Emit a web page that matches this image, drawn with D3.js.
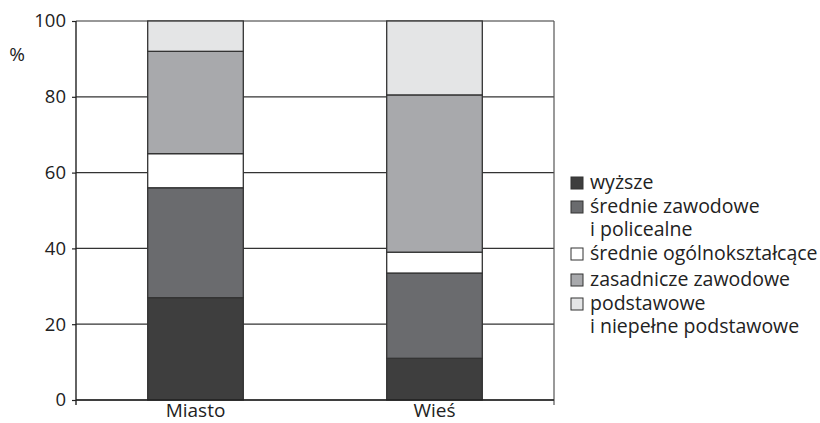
<!DOCTYPE html>
<html><head><meta charset="utf-8">
<script src="https://cdn.jsdelivr.net/npm/d3@7"></script>
<style>body{margin:0;background:#fff}svg{display:block}text{font-family:"Open Sans","Noto Sans",sans-serif;fill:#222}</style>
</head><body><svg id="c" width="820" height="423"></svg>
<script>
const categories = ["Miasto", "Wieś"];
const seriesNames = ["wyższe", "średnie zawodowe\ni policealne", "średnie ogólnokształcące", "zasadnicze zawodowe", "podstawowe\ni niepełne podstawowe"];
const wyzsze = [27, 11];
const srednieZawodowe = [29, 22.5];
const srednieOgolne = [9, 5.5];
const zasadnicze = [27, 41.5];
const podstawowe = [8, 19.5];
const yTicks = [0, 20, 40, 60, 80, 100];
const colors = ["#3e3e3e", "#6a6b6e", "#ffffff", "#a8a9ac", "#e4e5e6"];

const series = [wyzsze, srednieZawodowe, srednieOgolne, zasadnicze, podstawowe];
const svg = d3.select("#c");
const m = {l:76, r:554, t:21, b:400};
const x = d3.scaleBand().domain(categories).range([m.l, m.r]).paddingInner(0.6).paddingOuter(0.3);
const y = d3.scaleLinear().domain([0,100]).range([m.b, m.t]);

// gridlines
svg.append("g").selectAll("line").data(yTicks).join("line")
  .attr("x1", m.l).attr("x2", m.r).attr("y1", d=>y(d)).attr("y2", d=>y(d))
  .attr("stroke", "#333").attr("stroke-width", 1.2);
// right border
svg.append("line").attr("x1", m.r).attr("x2", m.r).attr("y1", m.t).attr("y2", m.b+5).attr("stroke", "#555").attr("stroke-width", 1.2);

// stacked bars
const rows = categories.map((c,i)=>{const o={cat:c}; series.forEach((s,j)=>o["s"+j]=s[i]); return o;});
const stack = d3.stack().keys(series.map((s,j)=>"s"+j))(rows);
svg.append("g").selectAll("g").data(stack).join("g")
  .attr("fill", (d,i)=>colors[i])
  .selectAll("rect").data(d=>d).join("rect")
  .attr("x", d=>x(d.data.cat)).attr("width", x.bandwidth())
  .attr("y", d=>y(d[1])).attr("height", d=>y(d[0])-y(d[1]))
  .attr("stroke", "#333").attr("stroke-width", 1.3);

// y axis
const ya = svg.append("g").attr("transform", `translate(${m.l},0)`)
  .call(d3.axisLeft(y).tickValues(yTicks).tickSize(4).tickPadding(6));
ya.select(".domain").remove();
ya.append("line").attr("x1",0).attr("x2",0).attr("y1",m.t).attr("y2",m.b+5).attr("stroke","#222").attr("stroke-width",1.4);
ya.selectAll(".tick line").attr("stroke","#222").attr("stroke-width",1.2);
ya.selectAll(".tick text").attr("font-size", 18.5).attr("fill","#222").style("font-family","'Open Sans'");
// x axis
svg.append("line").attr("x1", m.l).attr("x2", m.r).attr("y1", m.b).attr("y2", m.b).attr("stroke","#222").attr("stroke-width",1.4);
svg.append("g").selectAll("text").data(categories).join("text")
  .attr("x", d=>x(d)+x.bandwidth()/2).attr("y", 417).attr("text-anchor","middle").attr("font-size",19).text(d=>d);

svg.append("text").attr("x", 17).attr("y", 61).attr("text-anchor","middle").attr("font-size",19).text("%");

// legend
const legY = [183, 207, 254, 280, 304];
const lg = svg.append("g");
seriesNames.forEach((n,i)=>{
  lg.append("rect").attr("x",571).attr("y",legY[i]-6).attr("width",12).attr("height",12)
    .attr("fill",colors[i]).attr("stroke","#333").attr("stroke-width",1);
  const t = lg.append("text").attr("x",590).attr("y",legY[i]+6).attr("font-size",19.5);
  n.split("\n").forEach((line,k)=>t.append("tspan").attr("x",590).attr("dy",k?23:0).text(line));
});
</script></body></html>
